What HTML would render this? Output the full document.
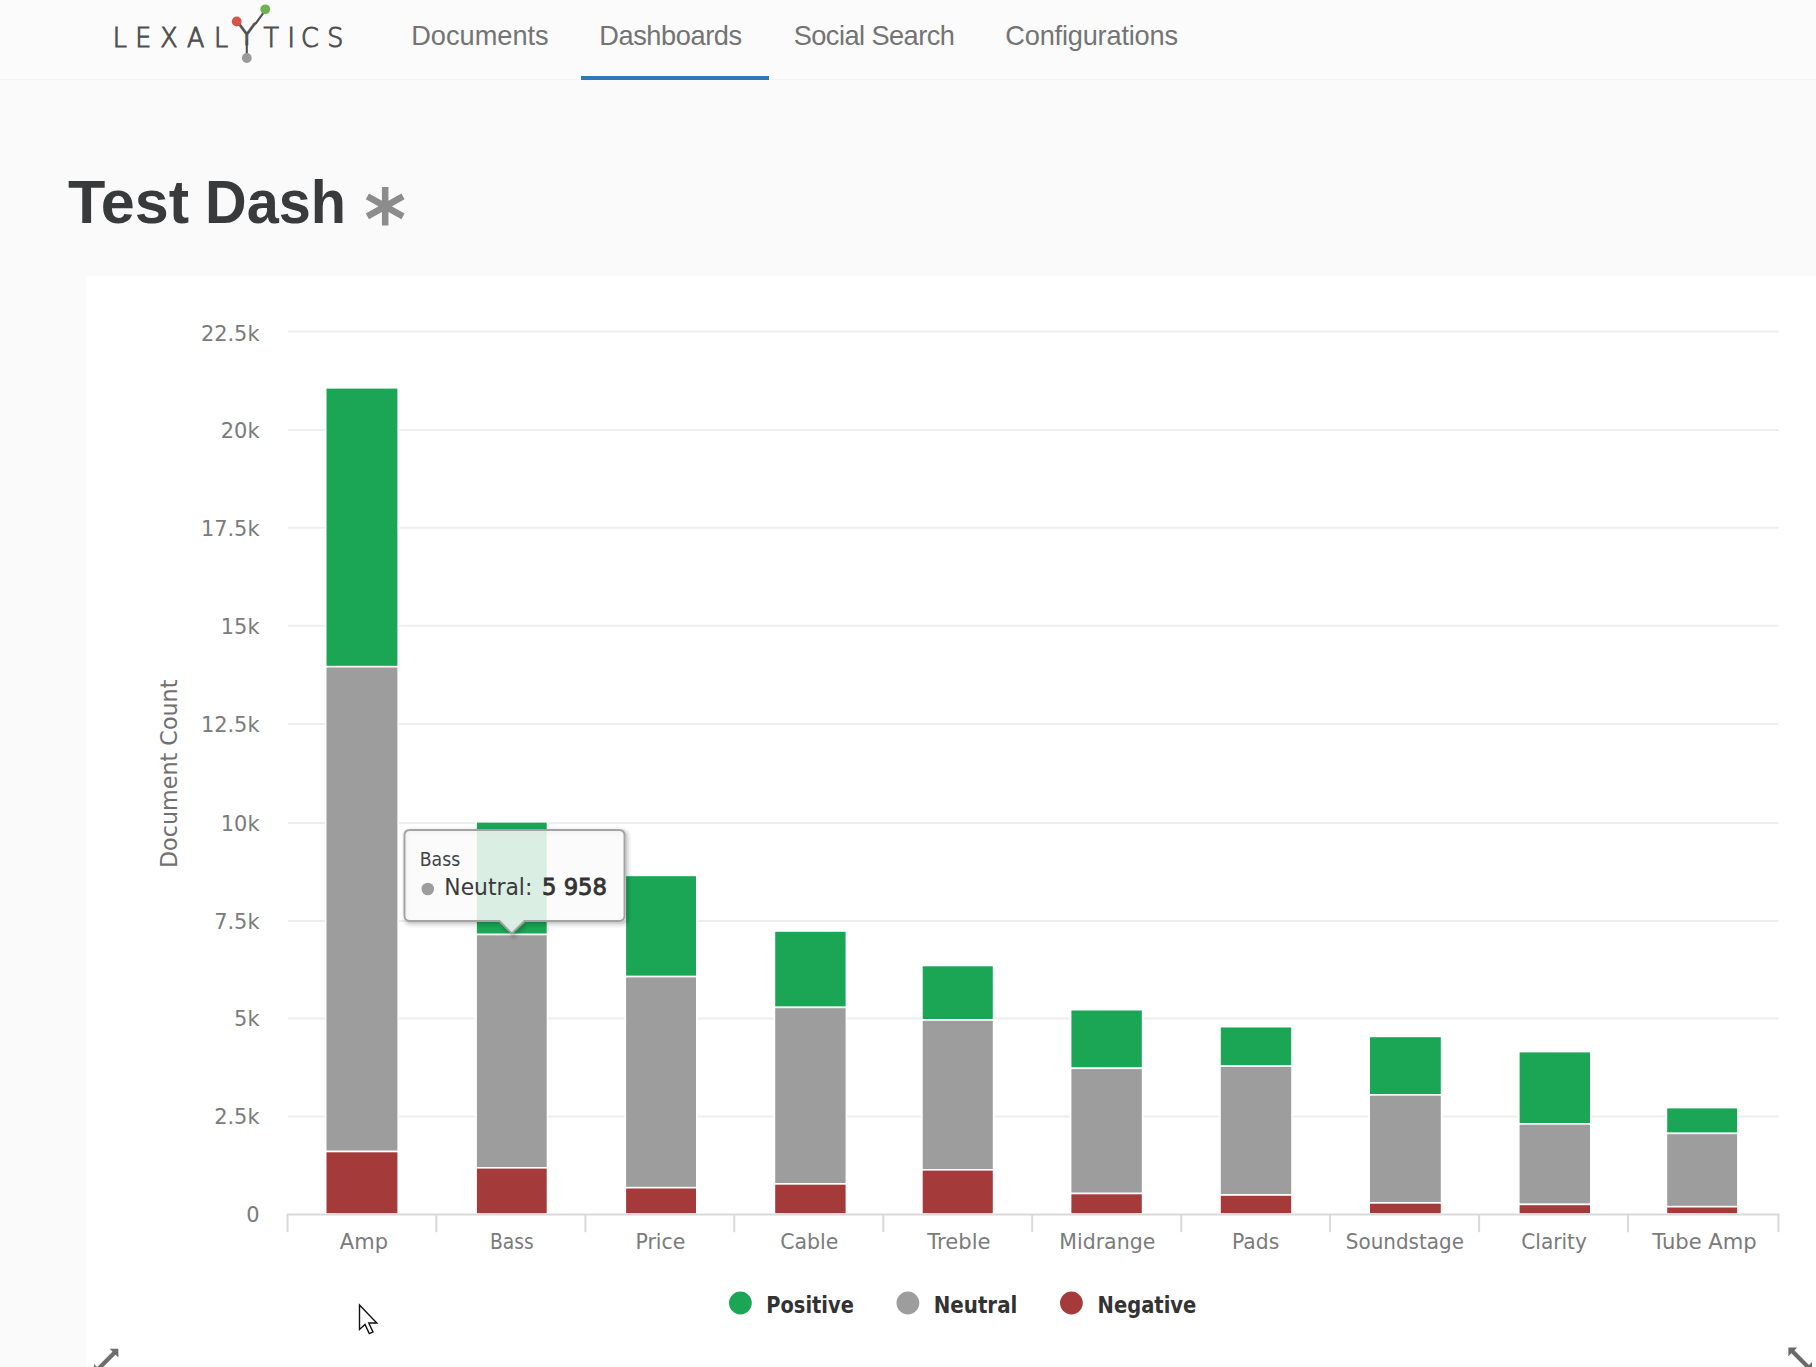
<!DOCTYPE html>
<html lang="en"><head><meta charset="utf-8"><title>Test Dash</title>
<style>
html,body{margin:0;padding:0;}
body{width:1816px;height:1367px;overflow:hidden;background:#fafafa;position:relative;font-family:"Liberation Sans",sans-serif;}
.hdr{position:absolute;left:0;top:0;width:1816px;height:78.5px;background:#fbfbfb;border-bottom:1.5px solid #f4f4f4;}
.nav{position:absolute;top:19.6px;font-size:27.2px;line-height:32px;color:#747474;white-space:nowrap;}
.ul{position:absolute;left:580.6px;top:75.7px;width:188.4px;height:4.5px;background:#3377b5;}
h1{position:absolute;left:0;top:166.6px;margin:0;font-size:61px;line-height:70px;font-weight:bold;color:#393a3c;white-space:nowrap;width:500px;height:70px;}
h1 span{position:absolute;top:0;transform-origin:0 0;}
h1 .w1{left:68.3px;transform:scale(1.002,1);}
h1 .w2{left:204.6px;transform:scale(0.945,1);}
.panel{position:absolute;left:85.5px;top:275.5px;width:1740px;height:1100px;background:#fff;border-radius:4px;box-shadow:0 0 2px rgba(255,255,255,0.9);}
svg{position:absolute;left:0;top:0;}
.ax{font-family:"DejaVu Sans",sans-serif;font-size:20.9px;fill:#7b7b7b;}
.xl{font-size:20.9px;}
.lg{font-family:"DejaVu Sans",sans-serif;font-weight:bold;font-size:22.8px;fill:#333;}
</style></head><body>
<div class="hdr"></div>
<div class="nav" style="left:411.2px;letter-spacing:0px">Documents</div>
<div class="nav" style="left:599.2px;letter-spacing:-0.4px">Dashboards</div>
<div class="nav" style="left:793.7px;letter-spacing:-0.55px">Social Search</div>
<div class="nav" style="left:1005.3px;letter-spacing:-0.2px">Configurations</div>
<div class="ul"></div>
<h1><span class="w1">Test</span> <span class="w2">Dash</span></h1>
<div class="panel"></div>
<svg width="1816" height="1367" viewBox="0 0 1816 1367">

<g id="logo">
<text font-family="'DejaVu Sans Light','DejaVu Sans',sans-serif" fill="#505050" stroke="#505050" stroke-width="1.05" font-size="27" y="47.4" transform="scale(0.94,1)" x="119.9 143.8 170.4 199 227.8">LEXAL</text><text font-family="'DejaVu Sans Light','DejaVu Sans',sans-serif" fill="#505050" stroke="#505050" stroke-width="1.05" font-size="31" transform="translate(236.8,45) scale(1.06,1)">Y</text><text font-family="'DejaVu Sans Light','DejaVu Sans',sans-serif" fill="#505050" stroke="#505050" stroke-width="1.05" font-size="27" y="47.4" transform="scale(0.94,1)" x="280.2 305.9 320.3 348.2">TICS</text>
<g stroke="#505050" stroke-width="2.1" stroke-linecap="round" fill="none"><path d="M246.8 41 L246.8 57 M255.8 23.4 L265 10.6"/></g>
<circle cx="236.7" cy="21.5" r="4.9" fill="#d7544c"/><circle cx="265.3" cy="9.3" r="4.9" fill="#6eb251"/><circle cx="246.8" cy="58" r="4.9" fill="#9a9a9a"/>
</g>
<g stroke="#8c8c8c" stroke-width="6.5" stroke-linecap="butt"><path d="M385.2 187 V225.6 M367.4 196.3 L403 216.3 M367.4 216.3 L403 196.3"/></g>
<path d="M288.0 331.4 H1778.6" stroke="#eeeeee" stroke-width="2"/>
<path d="M288.0 430.0 H1778.6" stroke="#eeeeee" stroke-width="2"/>
<path d="M288.0 527.8 H1778.6" stroke="#eeeeee" stroke-width="2"/>
<path d="M288.0 625.8 H1778.6" stroke="#eeeeee" stroke-width="2"/>
<path d="M288.0 724.0 H1778.6" stroke="#eeeeee" stroke-width="2"/>
<path d="M288.0 823.0 H1778.6" stroke="#eeeeee" stroke-width="2"/>
<path d="M288.0 921.0 H1778.6" stroke="#eeeeee" stroke-width="2"/>
<path d="M288.0 1018.5 H1778.6" stroke="#eeeeee" stroke-width="2"/>
<path d="M288.0 1116.5 H1778.6" stroke="#eeeeee" stroke-width="2"/>
<text class="ax" x="259.5" y="341.2" text-anchor="end">22.5k</text>
<text class="ax" x="259.5" y="437.9" text-anchor="end">20k</text>
<text class="ax" x="259.5" y="535.7" text-anchor="end">17.5k</text>
<text class="ax" x="259.5" y="633.7" text-anchor="end">15k</text>
<text class="ax" x="259.5" y="731.9" text-anchor="end">12.5k</text>
<text class="ax" x="259.5" y="830.9" text-anchor="end">10k</text>
<text class="ax" x="259.5" y="928.9" text-anchor="end">7.5k</text>
<text class="ax" x="259.5" y="1026.4" text-anchor="end">5k</text>
<text class="ax" x="259.5" y="1124.4" text-anchor="end">2.5k</text>
<text class="ax" x="259.5" y="1221.9" text-anchor="end">0</text>
<text class="ax" style="font-size:22.8px;fill:#707070" transform="translate(176.7,773.8) rotate(-90)" text-anchor="middle" textLength="188.5" lengthAdjust="spacingAndGlyphs">Document Count</text>
<rect x="325.7" y="387.8" width="72.5" height="278.9" fill="#1ba655" stroke="#fff" stroke-width="1.6"/>
<rect x="325.7" y="666.7" width="72.5" height="484.8" fill="#9d9d9d" stroke="#fff" stroke-width="1.6"/>
<rect x="325.7" y="1151.5" width="72.5" height="62.5" fill="#a53a3a" stroke="#fff" stroke-width="1.6"/>
<rect x="476.1" y="821.8" width="71.4" height="112.7" fill="#1ba655" stroke="#fff" stroke-width="1.6"/>
<rect x="476.1" y="934.5" width="71.4" height="233.3" fill="#9d9d9d" stroke="#fff" stroke-width="1.6"/>
<rect x="476.1" y="1167.8" width="71.4" height="46.2" fill="#a53a3a" stroke="#fff" stroke-width="1.6"/>
<rect x="625.3" y="875.4" width="71.5" height="101.2" fill="#1ba655" stroke="#fff" stroke-width="1.6"/>
<rect x="625.3" y="976.6" width="71.5" height="211.1" fill="#9d9d9d" stroke="#fff" stroke-width="1.6"/>
<rect x="625.3" y="1187.7" width="71.5" height="26.3" fill="#a53a3a" stroke="#fff" stroke-width="1.6"/>
<rect x="774.4" y="931.0" width="72.0" height="76.4" fill="#1ba655" stroke="#fff" stroke-width="1.6"/>
<rect x="774.4" y="1007.4" width="72.0" height="176.5" fill="#9d9d9d" stroke="#fff" stroke-width="1.6"/>
<rect x="774.4" y="1183.9" width="72.0" height="30.1" fill="#a53a3a" stroke="#fff" stroke-width="1.6"/>
<rect x="921.9" y="965.5" width="71.7" height="54.5" fill="#1ba655" stroke="#fff" stroke-width="1.6"/>
<rect x="921.9" y="1020.0" width="71.7" height="149.8" fill="#9d9d9d" stroke="#fff" stroke-width="1.6"/>
<rect x="921.9" y="1169.8" width="71.7" height="44.2" fill="#a53a3a" stroke="#fff" stroke-width="1.6"/>
<rect x="1070.6" y="1009.7" width="72.0" height="58.6" fill="#1ba655" stroke="#fff" stroke-width="1.6"/>
<rect x="1070.6" y="1068.3" width="72.0" height="125.2" fill="#9d9d9d" stroke="#fff" stroke-width="1.6"/>
<rect x="1070.6" y="1193.5" width="72.0" height="20.5" fill="#a53a3a" stroke="#fff" stroke-width="1.6"/>
<rect x="1220.0" y="1026.7" width="72.0" height="39.5" fill="#1ba655" stroke="#fff" stroke-width="1.6"/>
<rect x="1220.0" y="1066.2" width="72.0" height="128.8" fill="#9d9d9d" stroke="#fff" stroke-width="1.6"/>
<rect x="1220.0" y="1195.0" width="72.0" height="19.0" fill="#a53a3a" stroke="#fff" stroke-width="1.6"/>
<rect x="1369.2" y="1036.4" width="72.4" height="58.5" fill="#1ba655" stroke="#fff" stroke-width="1.6"/>
<rect x="1369.2" y="1094.9" width="72.4" height="108.0" fill="#9d9d9d" stroke="#fff" stroke-width="1.6"/>
<rect x="1369.2" y="1202.9" width="72.4" height="11.1" fill="#a53a3a" stroke="#fff" stroke-width="1.6"/>
<rect x="1518.8" y="1051.6" width="72.0" height="72.3" fill="#1ba655" stroke="#fff" stroke-width="1.6"/>
<rect x="1518.8" y="1123.9" width="72.0" height="80.5" fill="#9d9d9d" stroke="#fff" stroke-width="1.6"/>
<rect x="1518.8" y="1204.4" width="72.0" height="9.6" fill="#a53a3a" stroke="#fff" stroke-width="1.6"/>
<rect x="1666.4" y="1107.6" width="71.5" height="25.8" fill="#1ba655" stroke="#fff" stroke-width="1.6"/>
<rect x="1666.4" y="1133.4" width="71.5" height="73.3" fill="#9d9d9d" stroke="#fff" stroke-width="1.6"/>
<rect x="1666.4" y="1206.7" width="71.5" height="7.3" fill="#a53a3a" stroke="#fff" stroke-width="1.6"/>
<path d="M287.0 1214.5 H1779.6" stroke="#d9d9d9" stroke-width="2"/>
<path d="M287.5 1214.0 V1232.2" stroke="#d9d9d9" stroke-width="2"/>
<path d="M436.4 1214.0 V1232.2" stroke="#d9d9d9" stroke-width="2"/>
<path d="M585.4 1214.0 V1232.2" stroke="#d9d9d9" stroke-width="2"/>
<path d="M734.3 1214.0 V1232.2" stroke="#d9d9d9" stroke-width="2"/>
<path d="M883.3 1214.0 V1232.2" stroke="#d9d9d9" stroke-width="2"/>
<path d="M1032.2 1214.0 V1232.2" stroke="#d9d9d9" stroke-width="2"/>
<path d="M1181.2 1214.0 V1232.2" stroke="#d9d9d9" stroke-width="2"/>
<path d="M1330.1 1214.0 V1232.2" stroke="#d9d9d9" stroke-width="2"/>
<path d="M1479.1 1214.0 V1232.2" stroke="#d9d9d9" stroke-width="2"/>
<path d="M1628.0 1214.0 V1232.2" stroke="#d9d9d9" stroke-width="2"/>
<path d="M1778.4 1214.0 V1232.2" stroke="#d9d9d9" stroke-width="2"/>
<text class="ax xl" x="363.90" y="1249" text-anchor="middle" textLength="48.08" lengthAdjust="spacingAndGlyphs">Amp</text>
<text class="ax xl" x="511.80" y="1249" text-anchor="middle" textLength="43.79" lengthAdjust="spacingAndGlyphs">Bass</text>
<text class="ax xl" x="660.40" y="1249" text-anchor="middle" textLength="50.01" lengthAdjust="spacingAndGlyphs">Price</text>
<text class="ax xl" x="809.30" y="1249" text-anchor="middle" textLength="58.11" lengthAdjust="spacingAndGlyphs">Cable</text>
<text class="ax xl" x="958.90" y="1249" text-anchor="middle" textLength="63.30" lengthAdjust="spacingAndGlyphs">Treble</text>
<text class="ax xl" x="1107.30" y="1249" text-anchor="middle" textLength="96.02" lengthAdjust="spacingAndGlyphs">Midrange</text>
<text class="ax xl" x="1255.60" y="1249" text-anchor="middle" textLength="47.20" lengthAdjust="spacingAndGlyphs">Pads</text>
<text class="ax xl" x="1404.90" y="1249" text-anchor="middle" textLength="118.16" lengthAdjust="spacingAndGlyphs">Soundstage</text>
<text class="ax xl" x="1554.10" y="1249" text-anchor="middle" textLength="65.65" lengthAdjust="spacingAndGlyphs">Clarity</text>
<text class="ax xl" x="1704.50" y="1249" text-anchor="middle" textLength="104.49" lengthAdjust="spacingAndGlyphs">Tube Amp</text>
<circle cx="740.4" cy="1303" r="11.4" fill="#1ba655"/><text class="lg" x="766.3" y="1313" textLength="87.5" lengthAdjust="spacingAndGlyphs">Positive</text>
<circle cx="907.9" cy="1303" r="11.4" fill="#9d9d9d"/><text class="lg" x="933.8" y="1313" textLength="83.5" lengthAdjust="spacingAndGlyphs">Neutral</text>
<circle cx="1071.4" cy="1303" r="11.4" fill="#a53a3a"/><text class="lg" x="1097.6" y="1313" textLength="98.7" lengthAdjust="spacingAndGlyphs">Negative</text>
<g fill="none" stroke="#000" stroke-linejoin="round" transform="translate(1.9,1.9)"><path d="M410 830 H619 Q624.5 830 624.5 835.5 V915.5 Q624.5 921 619 921 H524.5 L511.8 933.5 L499.5 921 H410 Q404.5 921 404.5 915.5 V835.5 Q404.5 830 410 830 Z" stroke-opacity="0.04" stroke-width="9.5"/><path d="M410 830 H619 Q624.5 830 624.5 835.5 V915.5 Q624.5 921 619 921 H524.5 L511.8 933.5 L499.5 921 H410 Q404.5 921 404.5 915.5 V835.5 Q404.5 830 410 830 Z" stroke-opacity="0.06" stroke-width="5.7"/><path d="M410 830 H619 Q624.5 830 624.5 835.5 V915.5 Q624.5 921 619 921 H524.5 L511.8 933.5 L499.5 921 H410 Q404.5 921 404.5 915.5 V835.5 Q404.5 830 410 830 Z" stroke-opacity="0.1" stroke-width="1.9"/></g>
<path d="M410 830 H619 Q624.5 830 624.5 835.5 V915.5 Q624.5 921 619 921 H524.5 L511.8 933.5 L499.5 921 H410 Q404.5 921 404.5 915.5 V835.5 Q404.5 830 410 830 Z" fill="rgba(250,250,250,0.86)" stroke="#a3a3a3" stroke-width="1.9"/>
<text class="ax" style="font-size:18.8px;fill:#444" x="419.7" y="866.2" textLength="40.5" lengthAdjust="spacingAndGlyphs">Bass</text>
<circle cx="427.8" cy="889" r="6.3" fill="#9d9d9d"/>
<text class="ax" style="font-size:23.6px;fill:#3a3a3a" x="444.3" y="895.2" textLength="88" lengthAdjust="spacingAndGlyphs">Neutral:</text>
<text class="ax" style="font-size:23.6px;fill:#333;stroke:#333;stroke-width:0.9px" x="542" y="895.2" textLength="65" lengthAdjust="spacingAndGlyphs">5 958</text>
<g fill="#6e6e6e" stroke="none"><path d="M118.4 1348.8 H109.6 L118.4 1357.6 Z"/><path d="M94 1373 V1364 L103 1373 Z"/><path d="M115.2 1352 L97.2 1370" stroke="#6e6e6e" stroke-width="4.2" fill="none"/></g>
<g fill="#6a6a6a" stroke="none"><path d="M1788.4 1347.4 H1797.2 L1788.4 1356.2 Z"/><path d="M1812 1371 V1362 L1803 1371 Z"/><path d="M1791.6 1350.6 L1809 1368" stroke="#6a6a6a" stroke-width="4.2" fill="none"/></g>
<path d="M359.5 1305 V1329.5 L365 1324.5 L369.3 1333.6 L373 1332 L368.8 1323 H376.8 Z" fill="#fff" stroke="#111" stroke-width="1.4" stroke-linejoin="miter"/>
</svg></body></html>
